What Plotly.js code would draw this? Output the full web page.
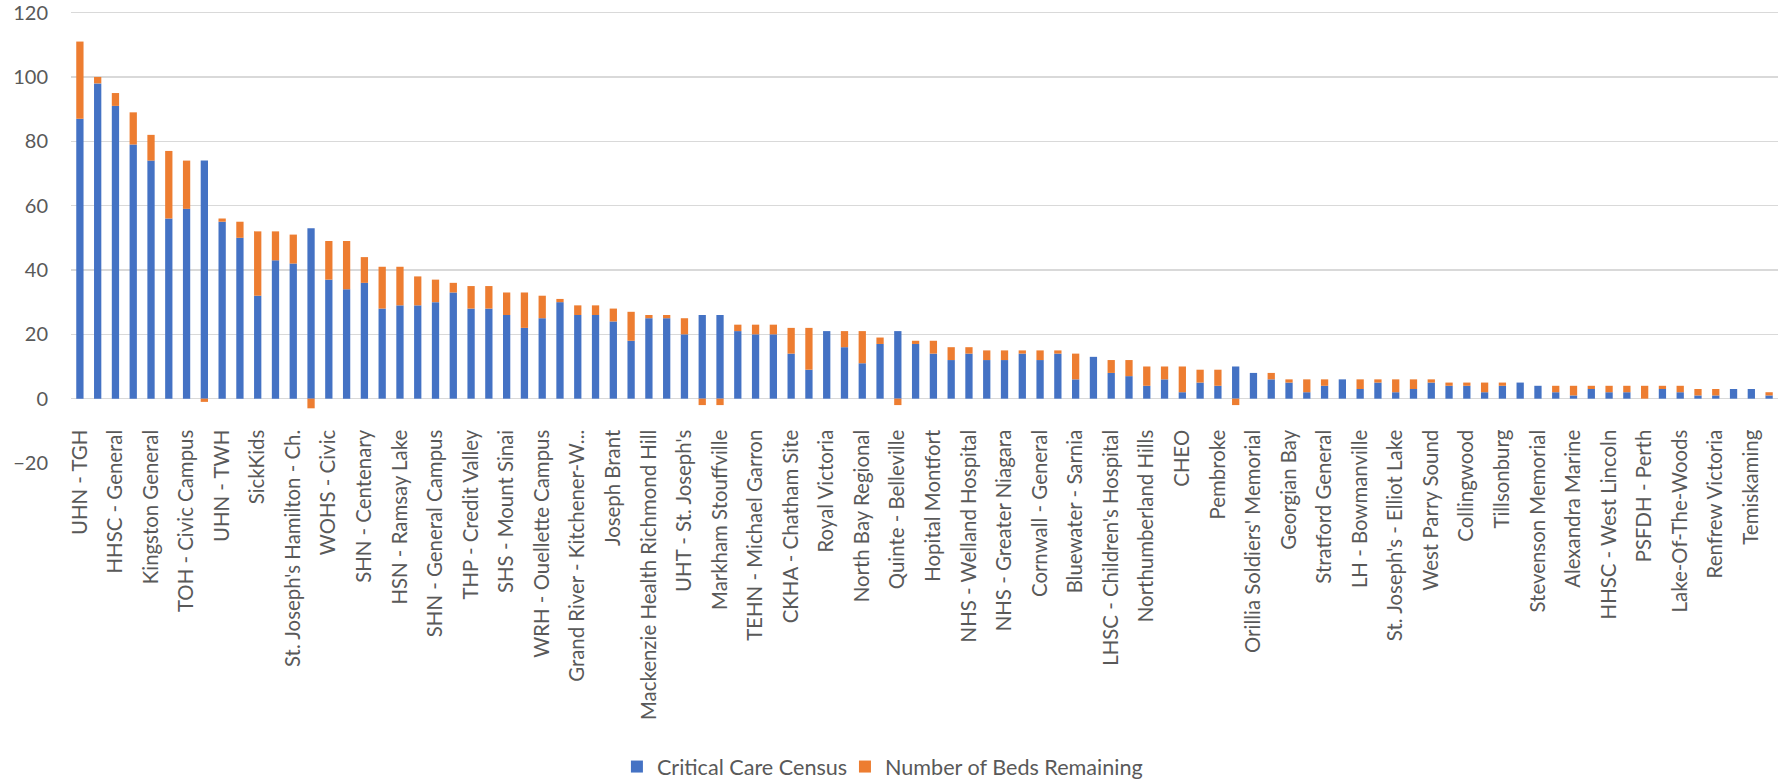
<!DOCTYPE html>
<html>
<head>
<meta charset="utf-8">
<script src="https://cdn.plot.ly/plotly-3.0.1.min.js"></script>
<style>html,body{margin:0;padding:0;background:#fff;}#chart{width:1783px;height:779px;}</style>
</head>
<body>
<div id="chart"></div>
<script>
// Hospital names (null = bar whose label is not shown in the chart)
const hospitals = [
  "UHN - TGH", null, "HHSC - General", null, "Kingston General", null,
  "TOH - Civic Campus", null, "UHN - TWH", null, "SickKids", null,
  "St. Joseph's Hamilton - Ch.", null, "WOHS - Civic", null, "SHN - Centenary", null,
  "HSN - Ramsay Lake", null, "SHN - General Campus", null, "THP - Credit Valley", null,
  "SHS - Mount Sinai", null, "WRH - Ouellette Campus", null, "Grand River - Kitchener-W...", null,
  "Joseph Brant", null, "Mackenzie Health Richmond Hill", null, "UHT - St. Joseph's", null,
  "Markham Stouffville", null, "TEHN - Michael Garron", null, "CKHA - Chatham Site", null,
  "Royal Victoria", null, "North Bay Regional", null, "Quinte - Belleville", null,
  "Hopital Montfort", null, "NHS - Welland Hospital", null, "NHS - Greater Niagara", null,
  "Cornwall - General", null, "Bluewater - Sarnia", null, "LHSC - Children's Hospital", null,
  "Northumberland Hills", null, "CHEO", null, "Pembroke", null,
  "Orillia Soldiers' Memorial", null, "Georgian Bay", null, "Stratford General", null,
  "LH - Bowmanville", null, "St. Joseph's - Elliot Lake", null, "West Parry Sound", null,
  "Collingwood", null, "Tillsonburg", null, "Stevenson Memorial", null,
  "Alexandra Marine", null, "HHSC - West Lincoln", null, "PSFDH - Perth", null,
  "Lake-Of-The-Woods", null, "Renfrew Victoria", null, "Temiskaming", null
];

const criticalCareCensus = [
  87, 98, 91, 79, 74, 56, 59, 74, 55, 50, 32, 43, 42, 53, 37, 34,
  36, 28, 29, 29, 30, 33, 28, 28, 26, 22, 25, 30, 26, 26, 24, 18,
  25, 25, 20, 26, 26, 21, 20, 20, 14, 9, 21, 16, 11, 17, 21, 17,
  14, 12, 14, 12, 12, 14, 12, 14, 6, 13, 8, 7, 4, 6, 2, 5,
  4, 10, 8, 6, 5, 2, 4, 6, 3, 5, 2, 3, 5, 4, 4, 2,
  4, 5, 4, 2, 1, 3, 2, 2, 0, 3, 2, 1, 1, 3, 3, 1
];

const bedsRemaining = [
  24, 2, 4, 10, 8, 21, 15, -1, 1, 5, 20, 9, 9, -3, 12, 15,
  8, 13, 12, 9, 7, 3, 7, 7, 7, 11, 7, 1, 3, 3, 4, 9,
  1, 1, 5, -2, -2, 2, 3, 3, 8, 13, 0, 5, 10, 2, -2, 1,
  4, 4, 2, 3, 3, 1, 3, 1, 8, 0, 4, 5, 6, 4, 8, 4,
  5, -2, 0, 2, 1, 4, 2, 0, 3, 1, 4, 3, 1, 1, 1, 3,
  1, 0, 0, 2, 3, 1, 2, 2, 4, 1, 2, 2, 2, 0, 0, 1
];

const seriesNames = ["Critical Care Census", "Number of Beds Remaining"];
const yTicks = [-20, 0, 20, 40, 60, 80, 100, 120];

// unique category ids; unlabeled bars get hidden ids
const categories = hospitals.map((h, i) => h === null ? "unlabelled-" + i : h);
const shownLabels = hospitals.filter(h => h !== null);

const FONT = "Lato, 'Open Sans', sans-serif";
const GREY = "#595959";

const traces = [
  {type: "bar", name: seriesNames[0], x: categories, y: criticalCareCensus,
   marker: {color: "#4472C4"}, legend: "legend"},
  {type: "bar", name: seriesNames[1], x: categories, y: bedsRemaining,
   marker: {color: "#ED7D31"}, legend: "legend2"}
];

const legendStyle = {orientation: "h", xref: "container", yref: "container",
  xanchor: "left", yanchor: "middle", y: 0.0154,
  font: {family: FONT, size: 21.6, color: GREY}, bgcolor: "rgba(0,0,0,0)"};

const layout = {
  width: 1783, height: 779,
  margin: {l: 71, r: 5, t: 10.6, b: 316.2},
  paper_bgcolor: "#ffffff", plot_bgcolor: "#ffffff",
  barmode: "relative",
  bargap: 0.59,
  font: {family: FONT, color: GREY, size: 20},
  showlegend: true,
  legend: Object.assign({}, legendStyle, {x: 0.3460}),
  legend2: Object.assign({}, legendStyle, {x: 0.4739}),
  xaxis: {
    type: "category",
    anchor: "free",
    position: 20 / 140.5,
    tickmode: "array",
    tickvals: shownLabels,
    ticktext: shownLabels,
    tickangle: -90,
    ticks: "",
    showgrid: false,
    showline: false,
    zeroline: false,
    automargin: false,
    ticklabelstandoff: 26,
    tickfont: {family: FONT, size: 20.4, color: GREY}
  },
  yaxis: {
    range: [-20, 120.5],
    tickmode: "array",
    tickvals: yTicks,
    ticks: "",
    showgrid: true,
    gridcolor: "#d9d9d9",
    gridwidth: 1.3,
    zeroline: true,
    zerolinecolor: "#d9d9d9",
    zerolinewidth: 1.3,
    showline: false,
    automargin: false,
    ticklabeloverflow: "allow",
    ticklabelstandoff: 22,
    tickfont: {family: FONT, size: 20, color: GREY}
  }
};

Plotly.newPlot("chart", traces, layout, {displayModeBar: false, staticPlot: true});
</script>
</body>
</html>
